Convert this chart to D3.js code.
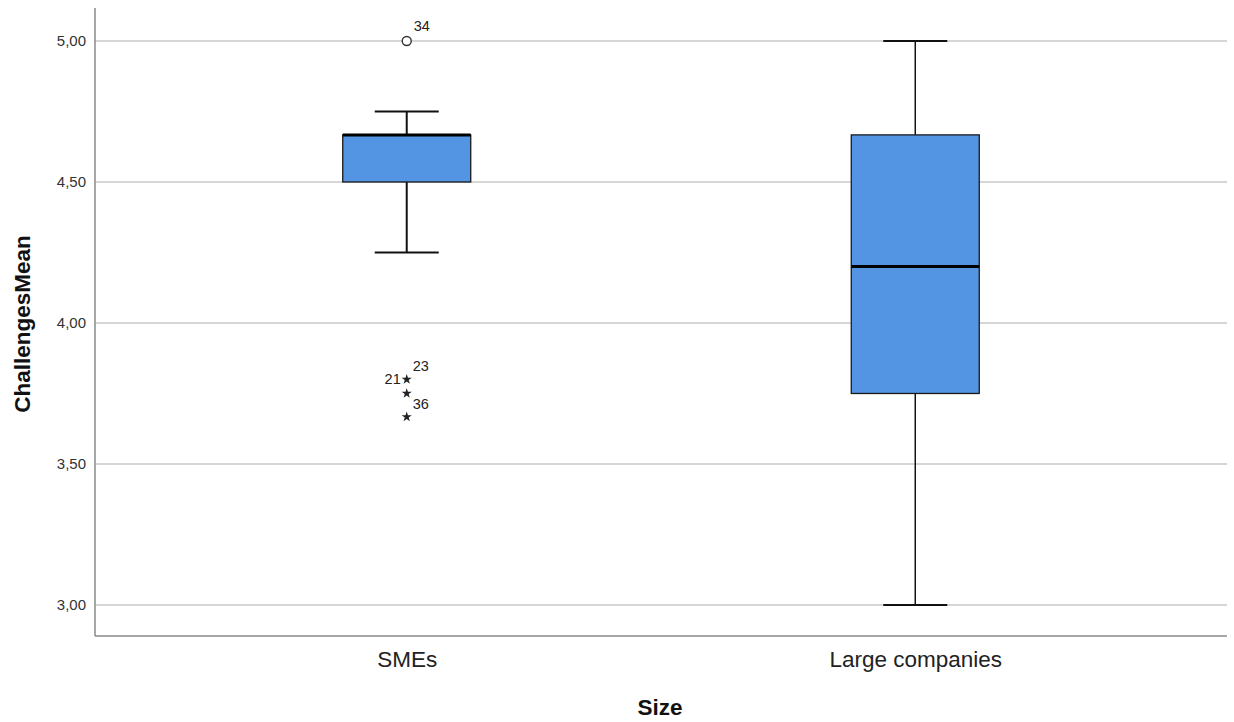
<!DOCTYPE html>
<html>
<head>
<meta charset="utf-8">
<script src="https://cdn.jsdelivr.net/npm/d3@7"></script>
<style>
  body { margin: 0; background: #fff; }
  svg { display: block; font-family: Arial, "Liberation Sans", sans-serif; }
</style>
</head>
<body>
<svg id="chart" width="1234" height="722"></svg>
<script>
// Groups and their five-number summaries
const categories = ["SMEs", "Large companies"];
const lowerWhisker = [4.25, 3.00];
const q1 = [4.50, 3.75];
const median = [4.667, 4.20];
const q3 = [4.667, 4.667];
const upperWhisker = [4.75, 5.00];

// Individual cases drawn beyond the whiskers
const outlierGroup = ["SMEs"];
const outlierValue = [5.00];
const outlierLabel = ["34"];
const extremeGroup = ["SMEs", "SMEs", "SMEs"];
const extremeValue = [3.80, 3.75, 3.667];

// Case numbers printed beside the extreme points
const extremeTagGroup = ["SMEs", "SMEs", "SMEs"];
const extremeTagValue = [3.80, 3.80, 3.667];
const extremeTagText = ["23", "21", "36"];
const extremeTagSide = ["upRight", "left", "upRight"];

const yTicks = [3.0, 3.5, 4.0, 4.5, 5.0];
const whiskerWidths = [2, 1.5];

const svg = d3.select("#chart");
const plotLeft = 95, plotRight = 1227, plotTop = 8, plotBottom = 636;

const y = d3.scaleLinear().domain([2.89, 5.117]).range([plotBottom, plotTop]);
const x = d3.scalePoint().domain(categories).range([plotLeft, plotRight]).padding(0.613);

const boxW = 128, capW = 64;
const fmt = v => d3.format(".2f")(v).replace(".", ",");

// Horizontal gridlines
svg.append("g")
  .selectAll("line")
  .data(yTicks)
  .join("line")
  .attr("x1", plotLeft).attr("x2", plotRight)
  .attr("y1", d => y(d)).attr("y2", d => y(d))
  .attr("stroke", "#c9c9c9").attr("stroke-width", 1.5);

// Y axis
const yAxis = svg.append("g")
  .attr("transform", `translate(${plotLeft},0)`)
  .call(d3.axisLeft(y).tickValues(yTicks).tickFormat(fmt).tickSize(0).tickPadding(9));
yAxis.select(".domain").remove();
yAxis.selectAll("text").attr("font-size", 15).attr("fill", "#333")
  .attr("font-family", "Arial, 'Liberation Sans', sans-serif");
svg.append("line")
  .attr("x1", plotLeft).attr("x2", plotLeft).attr("y1", plotTop).attr("y2", plotBottom)
  .attr("stroke", "#8a8a8a").attr("stroke-width", 1.5);

// X axis
const xAxis = svg.append("g")
  .attr("transform", `translate(0,${plotBottom})`)
  .call(d3.axisBottom(x).tickSize(0).tickPadding(15));
xAxis.select(".domain").remove();
xAxis.selectAll("text").attr("font-size", 22.5).attr("fill", "#222")
  .attr("font-family", "Arial, 'Liberation Sans', sans-serif");
svg.append("line")
  .attr("x1", plotLeft).attr("x2", plotRight).attr("y1", plotBottom).attr("y2", plotBottom)
  .attr("stroke", "#8a8a8a").attr("stroke-width", 1.5);

// Axis titles
svg.append("text")
  .attr("x", 660).attr("y", 715)
  .attr("text-anchor", "middle").attr("font-size", 22.5).attr("font-weight", "bold")
  .attr("fill", "#111").text("Size");
svg.append("text")
  .attr("transform", `translate(30,324) rotate(-90)`)
  .attr("text-anchor", "middle").attr("font-size", 22.5).attr("font-weight", "bold")
  .attr("fill", "#111").text("ChallengesMean");

// Boxes
const boxes = svg.append("g").selectAll("g")
  .data(categories.map((c, i) => ({ c, i })))
  .join("g");

boxes.append("line")
  .attr("x1", d => x(d.c)).attr("x2", d => x(d.c))
  .attr("y1", d => y(upperWhisker[d.i])).attr("y2", d => y(q3[d.i]))
  .attr("stroke", "#111").attr("stroke-width", d => whiskerWidths[d.i]);
boxes.append("line")
  .attr("x1", d => x(d.c)).attr("x2", d => x(d.c))
  .attr("y1", d => y(q1[d.i])).attr("y2", d => y(lowerWhisker[d.i]))
  .attr("stroke", "#111").attr("stroke-width", d => whiskerWidths[d.i]);
[upperWhisker, lowerWhisker].forEach(arr => {
  boxes.append("line")
    .attr("x1", d => x(d.c) - capW / 2).attr("x2", d => x(d.c) + capW / 2)
    .attr("y1", d => y(arr[d.i])).attr("y2", d => y(arr[d.i]))
    .attr("stroke", "#111").attr("stroke-width", 2);
});
boxes.append("rect")
  .attr("x", d => x(d.c) - boxW / 2).attr("width", boxW)
  .attr("y", d => y(q3[d.i])).attr("height", d => y(q1[d.i]) - y(q3[d.i]))
  .attr("fill", "#5394e3").attr("stroke", "#1a1a1a").attr("stroke-width", 1.3);
boxes.append("line")
  .attr("x1", d => x(d.c) - boxW / 2).attr("x2", d => x(d.c) + boxW / 2)
  .attr("y1", d => y(median[d.i])).attr("y2", d => y(median[d.i]))
  .attr("stroke", "#000").attr("stroke-width", 3);

// Outliers (circles) and labels
outlierValue.forEach((v, i) => {
  const cx = x(outlierGroup[i]), cy = y(v);
  svg.append("circle").attr("cx", cx).attr("cy", cy).attr("r", 4.5)
    .attr("fill", "#fff").attr("stroke", "#333").attr("stroke-width", 1.4);
  svg.append("text").attr("x", cx + 7).attr("y", cy - 10)
    .attr("font-size", 14.5).attr("fill", "#222").text(outlierLabel[i]);
});

// Extreme values (stars)
const star = d3.symbol().type(d3.symbolStar).size(32);
extremeValue.forEach((v, i) => {
  svg.append("path")
    .attr("transform", `translate(${x(extremeGroup[i])},${y(v)})`)
    .attr("d", star).attr("fill", "#222");
});
extremeTagValue.forEach((v, i) => {
  const cx = x(extremeTagGroup[i]), cy = y(v);
  const t = svg.append("text").attr("font-size", 14.5).attr("fill", "#222").text(extremeTagText[i]);
  if (extremeTagSide[i] === "left") {
    t.attr("x", cx - 6).attr("y", cy + 5).attr("text-anchor", "end");
  } else {
    t.attr("x", cx + 6).attr("y", cy - 8);
  }
});
</script>
</body>
</html>
